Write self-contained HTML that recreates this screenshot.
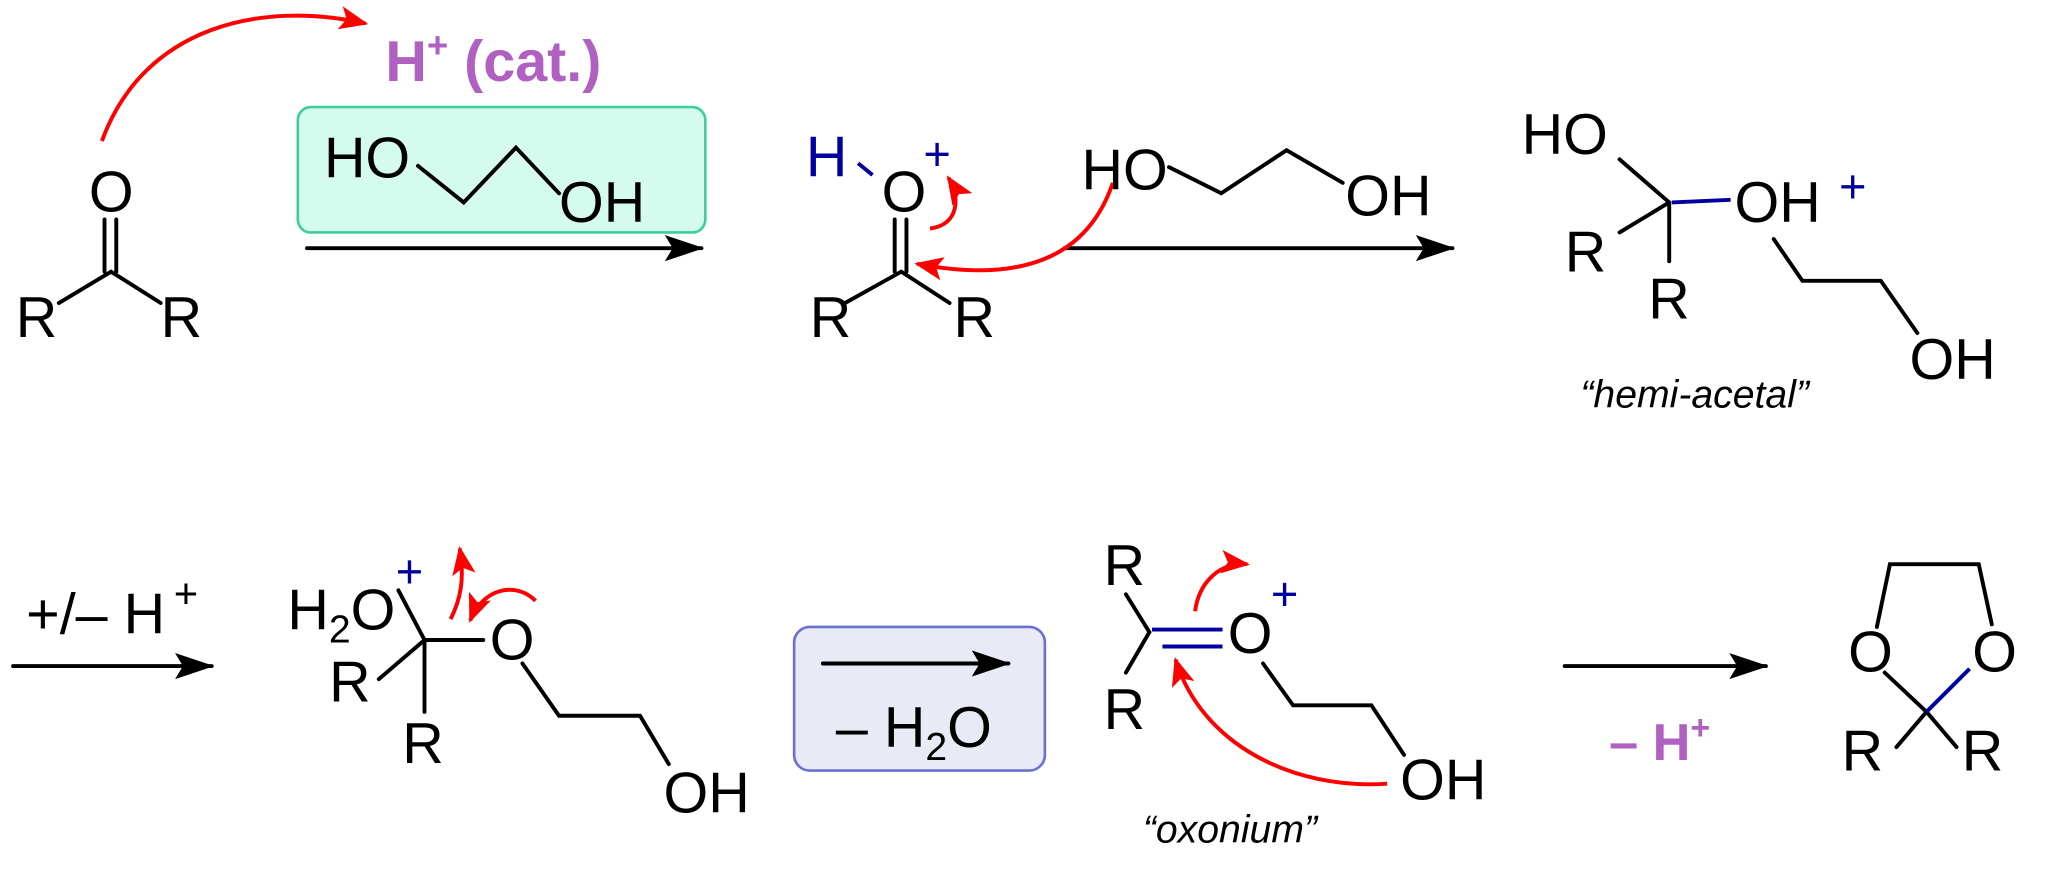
<!DOCTYPE html>
<html><head><meta charset="utf-8"><style>
html,body{margin:0;padding:0;background:#fff;}
svg{display:block;}
text{font-family:"Liberation Sans",sans-serif;}
</style></head><body>
<svg width="2048" height="885" viewBox="0 0 1568 677.6" xmlns="http://www.w3.org/2000/svg">
<defs>
<marker id="ar" markerWidth="22" markerHeight="18" refX="20" refY="9" orient="auto" markerUnits="userSpaceOnUse"><path d="M0,0 L22,9 L0,18 L5,9 Z" fill="#f00"/></marker>
<marker id="abk" markerWidth="30" markerHeight="20" refX="28" refY="10" orient="auto" markerUnits="userSpaceOnUse"><path d="M0,0 L30,10 L0,20 L6,10 Z" fill="#000"/></marker>
</defs>
<rect x="228" y="82" width="312" height="96" rx="10" fill="#d4fbee" stroke="#3ccf9a" stroke-width="2"/>
<rect x="608" y="480" width="192" height="110" rx="12" fill="#e8eaf6" stroke="#6a70d0" stroke-width="2"/>
<g stroke="#000" stroke-width="3" fill="none" stroke-linecap="round">
<line x1="80" y1="168" x2="80" y2="208"/><line x1="89" y1="168" x2="89" y2="208"/>
<polyline points="45,232 85,208 123,232"/>
<line x1="235" y1="190" x2="537" y2="190" marker-end="url(#abk)"/>
<polyline points="320,127 355,155 395,113 428,148"/>
<line x1="685" y1="168" x2="685" y2="208"/><line x1="694" y1="168" x2="694" y2="208"/>
<polyline points="647,232 690,208 727,232"/>
<polyline points="895,128 935,148 985,115 1028,140"/>
<line x1="815" y1="190" x2="1112" y2="190" marker-end="url(#abk)"/>
<line x1="1240" y1="122" x2="1278" y2="155"/>
<line x1="1240" y1="178" x2="1278" y2="155"/>
<line x1="1278" y1="155" x2="1278" y2="200"/>
<polyline points="1358,183 1380,215 1440,215 1468,255"/>
<line x1="10" y1="510" x2="162" y2="510" marker-end="url(#abk)"/>
<line x1="305" y1="452" x2="325" y2="490"/>
<line x1="325" y1="490" x2="370" y2="490"/>
<line x1="325" y1="490" x2="290" y2="520"/>
<line x1="325" y1="490" x2="325" y2="545"/>
<polyline points="400,508 428,548 490,548 512,585"/>
<line x1="630" y1="508" x2="772" y2="508" marker-end="url(#abk)"/>
<line x1="862" y1="455" x2="880" y2="484"/>
<line x1="880" y1="484" x2="862" y2="515"/>
<polyline points="967,508 990,540 1050,540 1075,578"/>
<line x1="1198" y1="510" x2="1352" y2="510" marker-end="url(#abk)"/>
<polyline points="1437,480 1447,432 1515,432 1525,478"/>
<line x1="1443" y1="515" x2="1475" y2="545"/>
<line x1="1475" y1="545" x2="1452" y2="572"/>
<line x1="1475" y1="545" x2="1498" y2="572"/>
</g>
<g stroke="#0000a0" stroke-width="3" fill="none">
<line x1="657" y1="125" x2="668" y2="134"/>
<line x1="1280" y1="155" x2="1325" y2="153"/>
<line x1="882" y1="482" x2="936" y2="482"/>
<line x1="890" y1="495" x2="936" y2="495"/>
<line x1="1475" y1="545" x2="1508" y2="512"/>
</g>
<g stroke="#f00" stroke-width="3" fill="none">
<path d="M78,108 C110,20 200,0 280,18" marker-end="url(#ar)"/>
<path d="M712,175 C735,172 735,150 726,136" marker-end="url(#ar)"/>
<path d="M852,140 C830,205 770,215 702,202" marker-end="url(#ar)"/>
<path d="M345,474 C352,460 356,445 352,420" marker-end="url(#ar)"/>
<path d="M410,460 C395,445 370,450 360,475" marker-end="url(#ar)"/>
<path d="M915,468 C918,445 935,430 955,432" marker-end="url(#ar)"/>
<path d="M1062,600 C990,605 920,570 900,505" marker-end="url(#ar)"/>
</g>
<g font-size="44" fill="#000">
<text x="68" y="162">O</text>
<text x="12" y="258">R</text><text x="123" y="258">R</text>
<text x="248" y="136">HO</text><text x="428" y="170">OH</text>
<text x="675" y="162">O</text>
<text x="620" y="258">R</text><text x="730" y="258">R</text>
<text x="828" y="145">HO</text><text x="1030" y="165">OH</text>
<text x="1165" y="118">HO</text>
<text x="1198" y="208">R</text>
<text x="1262" y="244">R</text>
<text x="1328" y="170">OH</text>
<text x="1462" y="290">OH</text>
<text x="20" y="485">+/– H</text>
<text x="220" y="482">H<tspan font-size="30" dy="10">2</tspan><tspan dy="-10">O</tspan></text>
<text x="375" y="505">O</text>
<text x="252" y="537">R</text>
<text x="308" y="584">R</text>
<text x="508" y="622">OH</text>
<text x="640" y="572">– H<tspan font-size="30" dy="10">2</tspan><tspan dy="-10">O</tspan></text>
<text x="845" y="448">R</text>
<text x="845" y="558">R</text>
<text x="940" y="500">O</text>
<text x="1072" y="612">OH</text>
<text x="1415" y="514">O</text>
<text x="1510" y="514">O</text>
<text x="1410" y="590">R</text>
<text x="1502" y="590">R</text>
</g>
<text x="133" y="465" font-size="32" fill="#000">+</text>
<g fill="#0000a0" font-size="36">
<text x="617" y="135" font-size="44">H</text>
<text x="707" y="130">+</text>
<text x="303" y="450">+</text>
<text x="973" y="467">+</text>
<text x="1408" y="155">+</text>
</g>
<g fill="#b060c0" font-weight="bold">
<text x="295" y="62" font-size="44">H<tspan font-size="28" dy="-18">+</tspan><tspan dy="18"> (cat.)</tspan></text>
<text x="1232" y="582" font-size="40">– H<tspan font-size="26" dy="-16">+</tspan></text>
</g>
<g font-size="30" font-style="italic" fill="#000">
<text x="1210" y="312">“hemi-acetal”</text>
<text x="875" y="645">“oxonium”</text>
</g>
</svg>
</body></html>
